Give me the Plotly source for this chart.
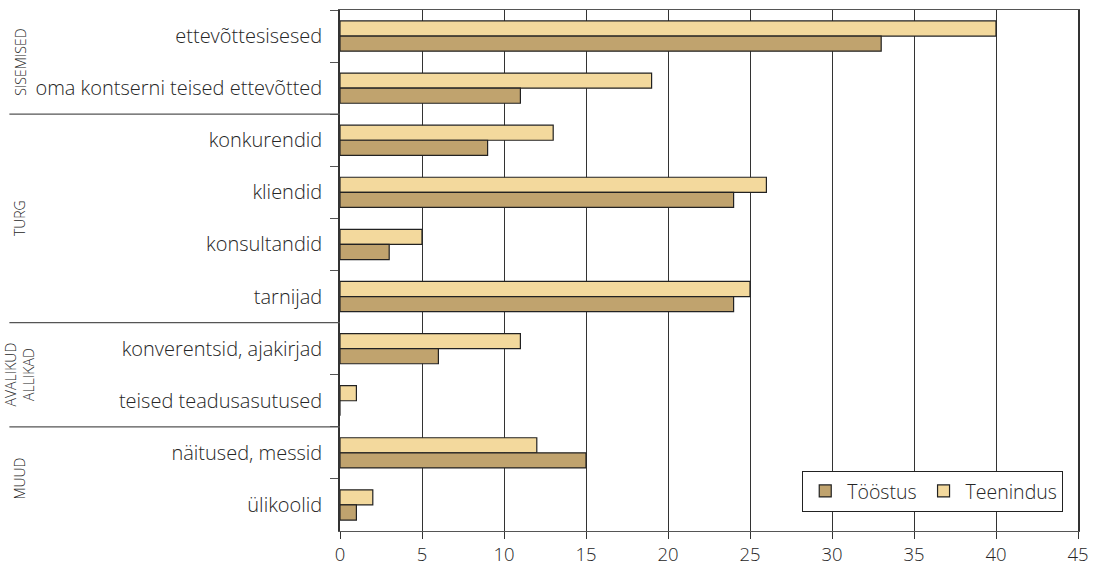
import plotly.graph_objects as go

# Information sources, grouped into four blocks
categories = [
    "ettevõttesisesed",
    "oma kontserni teised ettevõtted",
    "konkurendid",
    "kliendid",
    "konsultandid",
    "tarnijad",
    "konverentsid, ajakirjad",
    "teised teadusasutused",
    "näitused, messid",
    "ülikoolid",
]
teenindus = [40, 19, 13, 26, 5, 25, 11, 1, 12, 2]
toostus = [33, 11, 9, 24, 3, 24, 6, 0, 15, 1]

# Group name, first category index, last category index
groups = [
    ("SISEMISED", 0, 1),
    ("TURG", 2, 5),
    ("AVALIKUD<br>ALLIKAD", 6, 7),
    ("MUUD", 8, 9),
]
x_ticks = [0, 5, 10, 15, 20, 25, 30, 35, 40, 45]

LIGHT = "#F3D99D"
DARK = "#C0A36E"
TEXT = "#262626"
FONT = "Open Sans"

fig = go.Figure()
fig.add_trace(go.Bar(
    y=categories, x=teenindus, orientation="h", name="Teenindus",
    marker=dict(color=LIGHT, line=dict(color="#222222", width=1.2)),
))
fig.add_trace(go.Bar(
    y=categories, x=toostus, orientation="h", name="Tööstus",
    marker=dict(color=DARK, line=dict(color="#222222", width=1.2)),
))

# Separators between the groups, extending into the label margin
for _, start, _end in groups[1:]:
    fig.add_shape(
        type="line", xref="paper", yref="y",
        x0=-0.448, x1=0, y0=start - 0.5, y1=start - 0.5,
        line=dict(color="#555555", width=1.2),
    )

# Rotated group titles
for name, start, end in groups:
    fig.add_annotation(
        text=name, xref="paper", yref="y",
        x=-0.434, y=(start + end) / 2,
        textangle=-90, showarrow=False,
        xanchor="center", yanchor="middle",
        font=dict(family=FONT, size=14, color=TEXT, weight=300),
    )

fig.update_layout(
    width=1097, height=571,
    margin=dict(l=340, r=19, t=10, b=40),
    plot_bgcolor="white", paper_bgcolor="white",
    barmode="group", bargap=0.42, bargroupgap=0,
    font=dict(family=FONT, size=20, color=TEXT, weight=300),
    legend=dict(
        orientation="h", traceorder="reversed",
        x=0.98, y=0.037, xanchor="right", yanchor="bottom",
        bordercolor="#222222", borderwidth=1, bgcolor="white",
        font=dict(family=FONT, size=19.5, color=TEXT, weight=300),
        itemwidth=34, tracegroupgap=0,
    ),
    xaxis=dict(
        range=[0, 45], tickvals=x_ticks,
        showgrid=True, gridcolor="#333333", gridwidth=1,
        showline=True, linecolor="#555555", linewidth=1, mirror=True,
        ticks="outside", ticklen=7, tickcolor="#333333",
        tickfont=dict(family=FONT, size=18.5, color=TEXT, weight=300),
        ticklabelstandoff=0, automargin=False,
        zeroline=False, fixedrange=True,
    ),
    yaxis=dict(
        autorange="reversed", type="category",
        showline=True, linecolor="#333333", linewidth=1.5, mirror=True,
        ticks="outside", tickson="boundaries", ticklen=8, tickcolor="#555555",
        tickfont=dict(family=FONT, size=20, color=TEXT, weight=300),
        ticklabelstandoff=12, showgrid=False, automargin=False,
    ),
)

fig.write_html("out.html")
